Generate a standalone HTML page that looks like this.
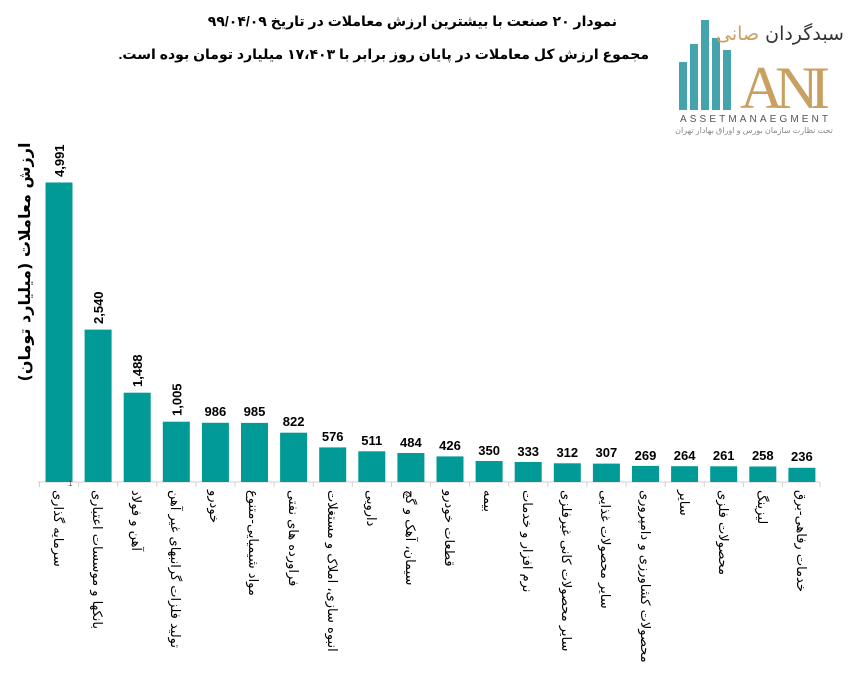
<!DOCTYPE html>
<html><head><meta charset="utf-8"><style>
body{margin:0;width:857px;height:682px;background:#fff;position:relative;overflow:hidden;font-family:"Liberation Sans","DejaVu Sans",sans-serif}
.t{position:absolute;font-weight:bold;color:#000;direction:rtl;white-space:nowrap}
.lab{position:absolute;top:490px;writing-mode:vertical-rl;font-size:13px;font-family:"DejaVu Sans",sans-serif;white-space:nowrap;color:#000}
</style></head><body>
<div class="t" style="right:240px;top:13px;font-size:14px;">نمودار ۲۰ صنعت با بیشترین ارزش معاملات در تاریخ ۹۹/۰۴/۰۹</div>
<div class="t" style="right:208px;top:46px;font-size:14px;">مجموع ارزش کل معاملات در پایان روز برابر با ۱۷،۴۰۳ میلیارد تومان بوده است.</div>
<svg width="857" height="682" style="position:absolute;left:0;top:0">
<text transform="translate(30,262) rotate(-90)" font-size="16" font-weight="bold" text-anchor="middle" font-family="DejaVu Sans" direction="rtl">ارزش معاملات (میلیارد تومان)</text>
<g fill="#45a3ad"><rect x="679" y="62" width="8" height="48"/><rect x="690" y="44" width="8" height="66"/><rect x="701" y="20" width="8" height="90"/><rect x="712" y="38" width="8" height="72"/><rect x="723" y="50" width="8" height="60"/></g>
<text x="740" y="108" font-size="60" fill="#c8a062" font-family="Liberation Serif" textLength="90">ANI</text>
<text x="780" y="40" font-size="19" fill="#333" font-family="DejaVu Sans" text-anchor="middle" direction="rtl">سبدگردان <tspan fill="#c8a062">صانی</tspan></text>
<text x="680" y="122" font-size="10" fill="#555" textLength="148">ASSETMANAEGMENT</text>
<text x="754" y="133" font-size="8" fill="#888" text-anchor="middle">تحت نظارت سازمان بورس و اوراق بهادار تهران</text>
<line x1="38" y1="482" x2="820" y2="482" stroke="#d0d0d0" stroke-width="1"/>
<g fill="#029a96">
<rect x="45.5" y="182.5" width="27" height="299.5"/>
<rect x="84.6" y="329.6" width="27" height="152.4"/>
<rect x="123.7" y="392.7" width="27" height="89.3"/>
<rect x="162.8" y="421.7" width="27" height="60.3"/>
<rect x="201.9" y="422.8" width="27" height="59.2"/>
<rect x="241" y="422.9" width="27" height="59.1"/>
<rect x="280.1" y="432.7" width="27" height="49.3"/>
<rect x="319.2" y="447.4" width="27" height="34.6"/>
<rect x="358.3" y="451.3" width="27" height="30.7"/>
<rect x="397.4" y="453" width="27" height="29"/>
<rect x="436.5" y="456.4" width="27" height="25.6"/>
<rect x="475.6" y="461" width="27" height="21"/>
<rect x="514.7" y="462" width="27" height="20"/>
<rect x="553.8" y="463.3" width="27" height="18.7"/>
<rect x="592.9" y="463.6" width="27" height="18.4"/>
<rect x="632" y="465.9" width="27" height="16.1"/>
<rect x="671.1" y="466.2" width="27" height="15.8"/>
<rect x="710.2" y="466.3" width="27" height="15.7"/>
<rect x="749.3" y="466.5" width="27" height="15.5"/>
<rect x="788.4" y="467.8" width="27" height="14.2"/>
</g>
<g stroke="#d0d0d0">
<line x1="39.5" y1="482" x2="39.5" y2="487"/><line x1="78.6" y1="482" x2="78.6" y2="487"/><line x1="117.7" y1="482" x2="117.7" y2="487"/><line x1="156.8" y1="482" x2="156.8" y2="487"/><line x1="195.9" y1="482" x2="195.9" y2="487"/><line x1="235" y1="482" x2="235" y2="487"/><line x1="274.1" y1="482" x2="274.1" y2="487"/><line x1="313.2" y1="482" x2="313.2" y2="487"/><line x1="352.3" y1="482" x2="352.3" y2="487"/><line x1="391.4" y1="482" x2="391.4" y2="487"/><line x1="430.5" y1="482" x2="430.5" y2="487"/><line x1="469.6" y1="482" x2="469.6" y2="487"/><line x1="508.7" y1="482" x2="508.7" y2="487"/><line x1="547.8" y1="482" x2="547.8" y2="487"/><line x1="586.9" y1="482" x2="586.9" y2="487"/><line x1="626" y1="482" x2="626" y2="487"/><line x1="665.1" y1="482" x2="665.1" y2="487"/><line x1="704.2" y1="482" x2="704.2" y2="487"/><line x1="743.3" y1="482" x2="743.3" y2="487"/><line x1="782.4" y1="482" x2="782.4" y2="487"/><line x1="820" y1="482" x2="820" y2="487"/>
</g>
<g font-size="13" font-weight="bold">
<text transform="translate(64,177) rotate(-90)">4,991</text>
<text transform="translate(103.1,324) rotate(-90)">2,540</text>
<text transform="translate(142.2,387) rotate(-90)">1,488</text>
<text transform="translate(181.3,416) rotate(-90)">1,005</text>
</g>
<g font-size="13" font-weight="bold" text-anchor="middle">
<text x="215.4" y="416">986</text>
<text x="254.5" y="416">985</text>
<text x="293.6" y="426">822</text>
<text x="332.7" y="441">576</text>
<text x="371.8" y="445">511</text>
<text x="410.9" y="447">484</text>
<text x="450" y="450">426</text>
<text x="489.1" y="455">350</text>
<text x="528.2" y="456">333</text>
<text x="567.3" y="457">312</text>
<text x="606.4" y="457">307</text>
<text x="645.5" y="460">269</text>
<text x="684.6" y="460">264</text>
<text x="723.7" y="460">261</text>
<text x="762.8" y="460">258</text>
<text x="801.9" y="461">236</text>
</g>
<text x="68" y="486" font-size="8" fill="#555">1</text>
</svg>
<div class="lab" style="left:50px">سرمایه گذاری</div>
<div class="lab" style="left:89px">بانکها و موسسات اعتباری</div>
<div class="lab" style="left:128px">آهن و فولاد</div>
<div class="lab" style="left:167px">تولید فلزات گرانبهای غیر آهن</div>
<div class="lab" style="left:206px">خودرو</div>
<div class="lab" style="left:245px">مواد شیمیایی-متنوع</div>
<div class="lab" style="left:285px">فراورده های نفتی</div>
<div class="lab" style="left:324px">انبوه سازی، املاک و مستغلات</div>
<div class="lab" style="left:363px">دارویی</div>
<div class="lab" style="left:402px">سیمان، آهک و گچ</div>
<div class="lab" style="left:441px">قطعات خودرو</div>
<div class="lab" style="left:480px">بیمه</div>
<div class="lab" style="left:519px">نرم افزار و خدمات</div>
<div class="lab" style="left:558px">سایر محصولات کانی غیرفلزی</div>
<div class="lab" style="left:597px">سایر محصولات غذایی</div>
<div class="lab" style="left:637px">محصولات کشاورزی و دامپروری</div>
<div class="lab" style="left:676px">سایر</div>
<div class="lab" style="left:715px">محصولات فلزی</div>
<div class="lab" style="left:754px">لیزینگ</div>
<div class="lab" style="left:793px">خدمات رفاهی-برق</div>
</body></html>
